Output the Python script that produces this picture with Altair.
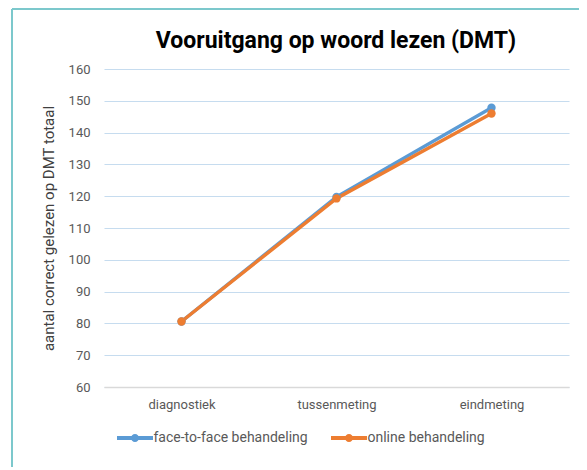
import altair as alt
import pandas as pd

categories = ["diagnostiek", "tussenmeting", "eindmeting"]
series_names = ["face-to-face behandeling", "online behandeling"]
face_to_face = [80.6, 119.8, 147.8]
online = [80.6, 119.3, 146.0]
colors = ["#5b9bd5", "#ed7d31"]
title_text = "Vooruitgang op woord lezen (DMT)"

rows = []
for name, vals in zip(series_names, [face_to_face, online]):
    for c, v in zip(categories, vals):
        rows.append({"meting": c, "reeks": name, "waarde": v})
df = pd.DataFrame(rows)

FONT = "Roboto"

x_enc = alt.X("meting:N", sort=categories, title=None,
              scale=alt.Scale(paddingInner=0, paddingOuter=0.5),
              axis=alt.Axis(labelAngle=0, labelFontSize=13, labelColor="#595959",
                            labelPadding=11, ticks=False, domain=True,
                            domainColor="#d9d9d9", domainWidth=1.5, grid=False,
                            labelFont=FONT))
y_enc = alt.Y("waarde:Q", title="aantal correct  gelezen op DMT totaal",
              scale=alt.Scale(domain=[60, 160], nice=False, zero=False),
              axis=alt.Axis(values=list(range(60, 161, 10)), labelFontSize=13,
                            labelColor="#595959", labelPadding=14, ticks=False,
                            domain=False, grid=True, gridColor="#c6dcef",
                            gridWidth=1.2, titleFontSize=15, titleColor="#404040",
                            titleFontWeight="normal", titlePadding=12,
                            labelFont=FONT, titleFont=FONT))
color_scale = alt.Scale(domain=series_names, range=colors)

legend = alt.Legend(
    title=None, orient="none", direction="horizontal",
    legendX=13, legendY=360,
    symbolType="M-1,-0.22 H3 V0.22 H-1 Z M1.45,0 A0.45,0.45 0 1,1 0.55,0 A0.45,0.45 0 1,1 1.45,0 Z",
    symbolSize=324, symbolStrokeWidth=0, symbolOpacity=1,
    labelOffset=18.5, labelFontSize=14, labelColor="#595959",
    labelFont=FONT, columnPadding=23)

lines = alt.Chart(df).mark_line(strokeWidth=3.4).encode(
    x=x_enc, y=y_enc,
    color=alt.Color("reeks:N", scale=color_scale, sort=series_names, legend=legend),
    detail="reeks:N",
)
points = alt.Chart(df).mark_point(filled=True, size=70, opacity=1).encode(
    x=x_enc, y=y_enc,
    color=alt.Color("reeks:N", scale=color_scale, sort=series_names, legend=legend),
)

title = alt.Chart(pd.DataFrame({"t": [title_text]})).mark_text(
    font=FONT, fontSize=23, fontWeight="bold", color="#000000",
    align="center", baseline="middle"
).encode(text="t:N", x=alt.value(232), y=alt.value(-28))

border = alt.Chart(df).mark_rule(color="#7cc8cc", strokeWidth=2).encode(
    x=alt.value(-92), x2=alt.value(480), y=alt.value(-60), y2=alt.value(-60)
)
border_left = alt.Chart(df).mark_rule(color="#7cc8cc", strokeWidth=2).encode(
    x=alt.value(-92), x2=alt.value(-92), y=alt.value(-60), y2=alt.value(400)
)

chart = alt.layer(border, border_left, title, lines, points).properties(
    width=465, height=318,
    autosize=alt.AutoSizeParams(type="none"),
    padding={"left": 96, "top": 61, "right": 10, "bottom": 80},
).configure_view(stroke=None)

chart.save("out.html", embed_options={"renderer": "svg", "actions": False})
